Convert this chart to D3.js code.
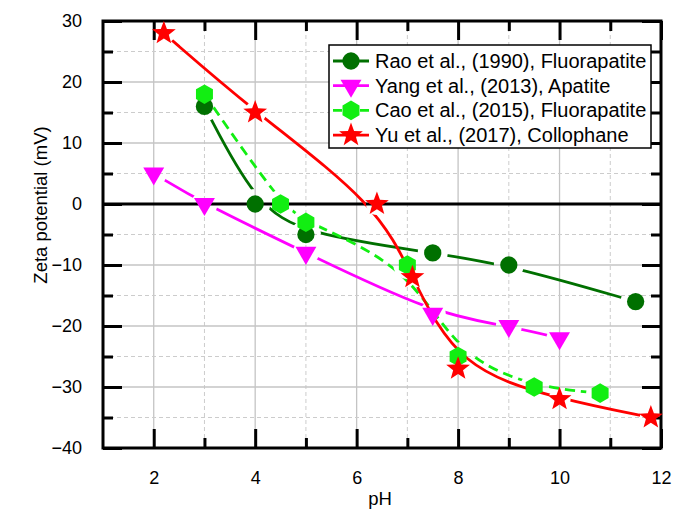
<!DOCTYPE html>
<html>
<head>
<meta charset="utf-8">
<script src="https://cdn.jsdelivr.net/npm/d3@7"></script>
<style>
  html, body { margin: 0; padding: 0; background: #fff; }
  svg { display: block; font-family: "Liberation Sans", Arial, sans-serif; }
</style>
</head>
<body>
<svg id="chart" width="686" height="510"></svg>
<script>
// Zeta potential vs pH for four phosphate studies
const raoPH   = [3, 4, 5, 7.5, 9, 11.5];
const raoZeta = [16, 0, -5, -8, -10, -16];

const yangPH   = [2, 3, 5, 7.5, 9, 10];
const yangZeta = [5, 0, -8, -18, -20, -22];

const caoPH   = [3, 4.5, 5, 7, 8, 9.5, 10.8];
const caoZeta = [18, 0, -3, -10, -25, -30, -31];

const yuPH   = [2.2, 4, 6.4, 7.1, 8, 10, 11.8];
const yuZeta = [28, 15, 0, -12, -27, -32, -35];

const seriesNames = [
  "Rao et al., (1990), Fluorapatite",
  "Yang et al., (2013), Apatite",
  "Cao et al., (2015), Fluorapatite",
  "Yu et al., (2017), Collophane"
];

const xMajorTicks = [2, 4, 6, 8, 10, 12];
const xMinorTicks = [3, 5, 7, 9, 11];
const yMajorTicks = [-40, -30, -20, -10, 0, 10, 20, 30];
const yMinorTicks = [-35, -25, -15, -5, 5, 15, 25];

const xTitle = "pH";
const yTitle = "Zeta potential (mV)";

// ---- layout ----
const L = 103, R = 661, T = 21, B = 448;
const svg = d3.select("#chart");
const x = d3.scaleLinear().domain([1, 12]).range([L, R]);
const y = d3.scaleLinear().domain([-40, 30]).range([B, T]);

// ---- grid ----
const grid = svg.append("g");
grid.selectAll(".gxM").data(xMajorTicks.filter(d => d < 12)).join("line")
  .attr("x1", d => x(d)).attr("x2", d => x(d)).attr("y1", T).attr("y2", B)
  .attr("stroke", "#c4c4c4").attr("stroke-width", 1.3);
grid.selectAll(".gxm").data(xMinorTicks).join("line")
  .attr("x1", d => x(d)).attr("x2", d => x(d)).attr("y1", T).attr("y2", B)
  .attr("stroke", "#cccccc").attr("stroke-width", 1).attr("stroke-dasharray", "4,3");
grid.selectAll(".gyM").data(yMajorTicks.filter(d => d > -40 && d < 30 && d !== 0)).join("line")
  .attr("x1", L).attr("x2", R).attr("y1", d => y(d)).attr("y2", d => y(d))
  .attr("stroke", "#c4c4c4").attr("stroke-width", 1.3);
grid.selectAll(".gym").data(yMinorTicks).join("line")
  .attr("x1", L).attr("x2", R).attr("y1", d => y(d)).attr("y2", d => y(d))
  .attr("stroke", "#cccccc").attr("stroke-width", 1).attr("stroke-dasharray", "4,3");

// zero line
svg.append("line")
  .attr("x1", L).attr("x2", R).attr("y1", y(0)).attr("y2", y(0))
  .attr("stroke", "#000").attr("stroke-width", 2.8);

// ---- axes (inward ticks on all four sides) ----
function styleAxis(g) {
  g.select(".domain").remove();
  g.selectAll(".tick line").attr("stroke", "#000").attr("stroke-width", 3);
  g.selectAll(".tick text").attr("fill", "#000").attr("font-size", 18)
    .attr("font-family", "\"Liberation Sans\", Arial, sans-serif");
}
const MAJ = 19, MIN = 10;

svg.append("g").attr("transform", `translate(0,${B})`)
  .call(d3.axisBottom(x).tickValues(xMajorTicks).tickSize(-MAJ).tickPadding(23).tickFormat(d3.format("d")))
  .call(styleAxis);
svg.append("g").attr("transform", `translate(0,${B})`)
  .call(d3.axisBottom(x).tickValues(xMinorTicks).tickSize(-MIN).tickFormat(""))
  .call(styleAxis);
svg.append("g").attr("transform", `translate(0,${T})`)
  .call(d3.axisTop(x).tickValues(xMajorTicks).tickSize(-MAJ).tickFormat(""))
  .call(styleAxis);
svg.append("g").attr("transform", `translate(0,${T})`)
  .call(d3.axisTop(x).tickValues(xMinorTicks).tickSize(-MIN).tickFormat(""))
  .call(styleAxis);

svg.append("g").attr("transform", `translate(${L},0)`)
  .call(d3.axisLeft(y).tickValues(yMajorTicks).tickSize(-MAJ).tickPadding(21).tickFormat(d3.format("d")))
  .call(styleAxis);
svg.append("g").attr("transform", `translate(${L},0)`)
  .call(d3.axisLeft(y).tickValues(yMinorTicks).tickSize(-MIN).tickFormat(""))
  .call(styleAxis);
svg.append("g").attr("transform", `translate(${R},0)`)
  .call(d3.axisRight(y).tickValues(yMajorTicks).tickSize(-MAJ).tickFormat(""))
  .call(styleAxis);
svg.append("g").attr("transform", `translate(${R},0)`)
  .call(d3.axisRight(y).tickValues(yMinorTicks).tickSize(-MIN).tickFormat(""))
  .call(styleAxis);

// frame
svg.append("rect")
  .attr("x", L).attr("y", T).attr("width", R - L).attr("height", B - T)
  .attr("fill", "none").attr("stroke", "#000").attr("stroke-width", 3);

// axis titles
svg.append("text")
  .attr("x", 380).attr("y", 505)
  .attr("text-anchor", "middle").attr("font-size", 18.5).text(xTitle);
svg.append("text")
  .attr("transform", "translate(47,205) rotate(-90)")
  .attr("text-anchor", "middle").attr("font-size", 18.5).text(yTitle);

// ---- marker shapes ----
function hexPath(r) {
  const pts = d3.range(6).map(i => {
    const a = Math.PI / 3 * i - Math.PI / 2;
    return [r * Math.cos(a), r * Math.sin(a)];
  });
  return "M" + pts.map(p => p.join(",")).join("L") + "Z";
}
function starPath(ro, ri) {
  const pts = d3.range(10).map(i => {
    const r = i % 2 === 0 ? ro : ri;
    const a = Math.PI / 5 * i - Math.PI / 2;
    return [r * Math.cos(a), r * Math.sin(a)];
  });
  return "M" + pts.map(p => p.join(",")).join("L") + "Z";
}
const circleShape = d3.symbol(d3.symbolCircle, 235)();
const triShape = d3.symbol(d3.symbolTriangle, 190)();

const series = [
  { name: seriesNames[0], px: raoPH, py: raoZeta, color: "#007000", dash: null,
    shape: circleShape, rotate: 0, gap: 15 },
  { name: seriesNames[1], px: yangPH, py: yangZeta, color: "#ff00ff", dash: null,
    shape: triShape, rotate: 180, gap: 13 },
  { name: seriesNames[2], px: caoPH, py: caoZeta, color: "#12ee12", dash: "10,6",
    shape: hexPath(9.8), rotate: 0, gap: 14 },
  { name: seriesNames[3], px: yuPH, py: yuZeta, color: "#ff0000", dash: null,
    shape: starPath(12.5, 5.2), rotate: 0, gap: 11 }
];

// ---- series lines, clipped near each marker ----
const defs = svg.append("defs");
const line = d3.line().x(d => x(d[0])).y(d => y(d[1])).curve(d3.curveBasis);

series.forEach((s, i) => {
  const pts = s.px.map((v, k) => [v, s.py[k]]);
  const mask = defs.append("mask").attr("id", "gap" + i)
    .attr("maskUnits", "userSpaceOnUse")
    .attr("x", 0).attr("y", 0).attr("width", 686).attr("height", 510);
  mask.append("rect").attr("x", 0).attr("y", 0).attr("width", 686).attr("height", 510).attr("fill", "#fff");
  mask.selectAll("circle").data(pts).join("circle")
    .attr("cx", d => x(d[0])).attr("cy", d => y(d[1])).attr("r", s.gap).attr("fill", "#000");

  svg.append("path")
    .attr("d", line(pts))
    .attr("fill", "none")
    .attr("stroke", s.color)
    .attr("stroke-width", 2.8)
    .attr("stroke-dasharray", s.dash)
    .attr("mask", `url(#gap${i})`);
});

// ---- markers ----
series.forEach(s => {
  const pts = s.px.map((v, k) => [v, s.py[k]]);
  svg.append("g").selectAll("path").data(pts).join("path")
    .attr("d", s.shape)
    .attr("transform", d => `translate(${x(d[0])},${y(d[1])}) rotate(${s.rotate})`)
    .attr("fill", s.color);
});

// ---- legend ----
const lg = svg.append("g");
lg.append("rect")
  .attr("x", 329).attr("y", 45).attr("width", 322).attr("height", 103)
  .attr("fill", "#fff").attr("stroke", "#000").attr("stroke-width", 1.5);
series.forEach((s, i) => {
  const cy = 61 + i * 24.7;
  lg.append("line")
    .attr("x1", 333).attr("x2", 369).attr("y1", cy).attr("y2", cy)
    .attr("stroke", s.color).attr("stroke-width", 2.8)
    .attr("stroke-dasharray", s.dash ? "9,18,9" : null);
  lg.append("path")
    .attr("d", s.shape)
    .attr("transform", `translate(351,${cy}) rotate(${s.rotate})`)
    .attr("fill", s.color);
  lg.append("text")
    .attr("x", 375).attr("y", cy + 7)
    .attr("font-size", 20).attr("fill", "#000")
    .text(s.name);
});
</script>
</body>
</html>
